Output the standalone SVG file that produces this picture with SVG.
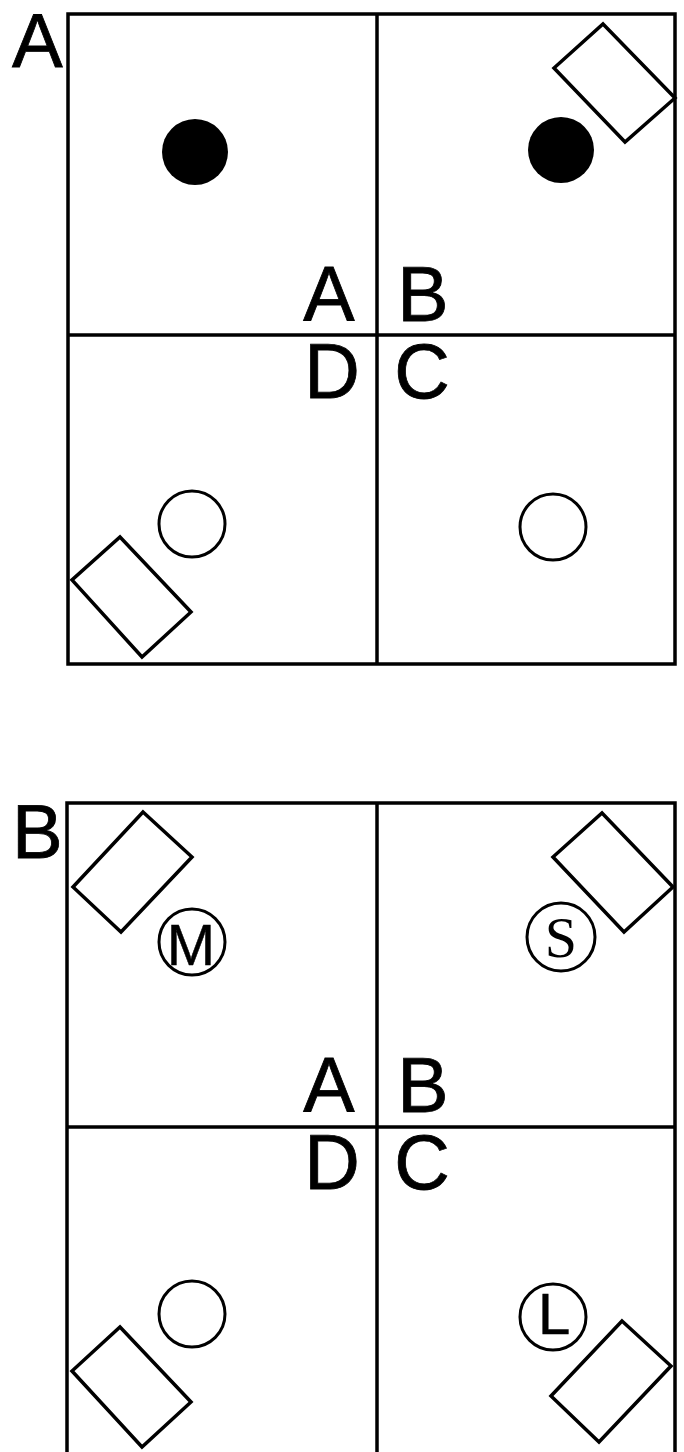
<svg xmlns="http://www.w3.org/2000/svg" width="684" height="1452" viewBox="0 0 684 1452">
<style>
.frame{fill:none;stroke:#000;stroke-width:3.5}
.rect{fill:#fff;stroke:#000;stroke-width:3.5;stroke-linejoin:miter}
.oc{fill:#fff;stroke:#000;stroke-width:3}
.fc{fill:#000}
.big{font-family:"Liberation Sans",Arial,sans-serif;font-size:76px;fill:#000;stroke:#000;stroke-width:0.8}
.q{font-family:"Liberation Sans",Arial,sans-serif;font-size:77px;fill:#000;text-anchor:middle;stroke:#000;stroke-width:0.8}
.s{font-family:"Liberation Sans",Arial,sans-serif;font-size:58px;fill:#000;stroke:#000;stroke-width:0.5}
.ser{font-family:"Liberation Serif","Times New Roman",serif;font-size:58px;fill:#000;text-anchor:middle}
</style>
<rect width="684" height="1452" fill="#fff"/>
<g id="panelA">
  <text class="big" x="12" y="67">A</text>
  <g id="gridA">
    <rect class="frame" x="68" y="14" width="607" height="650"/>
    <line class="frame" x1="377" y1="14" x2="377" y2="664"/>
    <line class="frame" x1="68" y1="335" x2="675" y2="335"/>
  </g>
  <text class="q" x="329" y="321">A</text>
  <text class="q" x="423" y="321">B</text>
  <text class="q" x="332" y="398">D</text>
  <text class="q" x="422" y="398">C</text>
  <g id="A-qA"><circle class="fc" cx="195" cy="152" r="33"/></g>
  <g id="A-qB">
    <circle class="fc" cx="561" cy="150" r="33"/>
    <polygon class="rect" points="603,24 675,98 625,142 554,68"/>
  </g>
  <g id="A-qD">
    <circle class="oc" cx="192" cy="524" r="33"/>
    <polygon class="rect" points="120,537 191,612 142,657 72,580"/>
  </g>
  <g id="A-qC"><circle class="oc" cx="553" cy="527" r="33"/></g>
</g>
<g id="panelB">
  <text class="big" x="12" y="858">B</text>
  <g id="gridB">
    <rect class="frame" x="67" y="803" width="608" height="660"/>
    <line class="frame" x1="377" y1="803" x2="377" y2="1452"/>
    <line class="frame" x1="67" y1="1127" x2="675" y2="1127"/>
  </g>
  <text class="q" x="329" y="1112">A</text>
  <text class="q" x="423" y="1112">B</text>
  <text class="q" x="332" y="1189">D</text>
  <text class="q" x="422" y="1189">C</text>
  <g id="B-qA">
    <polygon class="rect" points="143,812 192,857 121,932 73,887"/>
    <circle class="oc" cx="192" cy="942" r="33"/>
    <text class="s" x="191" y="965" text-anchor="middle">M</text>
  </g>
  <g id="B-qB">
    <polygon class="rect" points="602,813 673,887 624,932 553,857"/>
    <circle class="oc" cx="561" cy="937" r="34"/>
    <text class="ser" x="561" y="957">S</text>
  </g>
  <g id="B-qD">
    <circle class="oc" cx="192" cy="1314" r="33"/>
    <polygon class="rect" points="120,1327 191,1402 142,1447 72,1371"/>
  </g>
  <g id="B-qC">
    <circle class="oc" cx="553" cy="1317" r="33"/>
    <text class="s" x="538" y="1334">L</text>
    <polygon class="rect" points="622,1321 671,1366 599,1442 551,1396"/>
  </g>
</g>
</svg>
